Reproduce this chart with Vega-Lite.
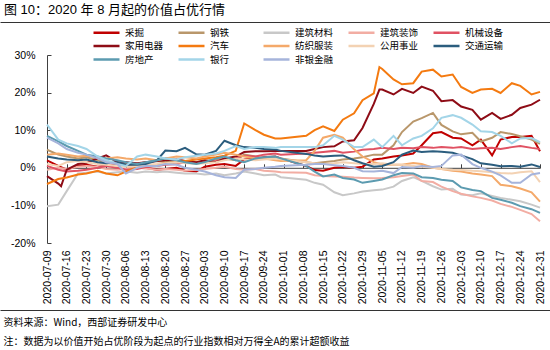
{
"$schema":"https://vega.github.io/schema/vega-lite/v6.json",
"width":493,"height":188,
"autosize":"none",
"padding":{"left":47,"top":55,"right":10,"bottom":107},
"background":"white",
"title":{"text":"图 10：2020 年 8 月起的价值占优行情","anchor":"start","frame":"group","dx":-43,"offset":5,"font":"Liberation Sans, Noto Sans CJK SC","fontSize":13,"fontWeight":"normal","color":"#000"},
"config":{"view":{"stroke":null},"axis":{"grid":false}},
"resolve":{"scale":{"x":"independent"},"axis":{"x":"independent"}},
"layer":[
{
"data":{"values":[
{"s":"采掘","d":"2020-07-09","v":2.0},{"s":"采掘","d":"2020-07-13","v":0.5},{"s":"采掘","d":"2020-07-16","v":-0.5},{"s":"采掘","d":"2020-07-20","v":0.5},{"s":"采掘","d":"2020-07-23","v":0.8},{"s":"采掘","d":"2020-07-27","v":0.3},{"s":"采掘","d":"2020-07-30","v":0.5},{"s":"采掘","d":"2020-08-03","v":0.8},{"s":"采掘","d":"2020-08-06","v":0.5},{"s":"采掘","d":"2020-08-10","v":0.3},{"s":"采掘","d":"2020-08-13","v":0.0},{"s":"采掘","d":"2020-08-17","v":-0.5},{"s":"采掘","d":"2020-08-20","v":-0.3},{"s":"采掘","d":"2020-08-24","v":0.0},{"s":"采掘","d":"2020-08-27","v":-0.8},{"s":"采掘","d":"2020-08-31","v":-1.0},{"s":"采掘","d":"2020-09-03","v":0.3},{"s":"采掘","d":"2020-09-07","v":0.8},{"s":"采掘","d":"2020-09-10","v":1.0},{"s":"采掘","d":"2020-09-14","v":0.5},{"s":"采掘","d":"2020-09-17","v":2.2},{"s":"采掘","d":"2020-09-21","v":2.5},{"s":"采掘","d":"2020-09-24","v":2.8},{"s":"采掘","d":"2020-09-28","v":3.0},{"s":"采掘","d":"2020-09-30","v":2.5},{"s":"采掘","d":"2020-10-09","v":0.5},{"s":"采掘","d":"2020-10-12","v":-0.6},{"s":"采掘","d":"2020-10-15","v":-0.8},{"s":"采掘","d":"2020-10-19","v":0.0},{"s":"采掘","d":"2020-10-22","v":0.2},{"s":"采掘","d":"2020-10-26","v":0.0},{"s":"采掘","d":"2020-10-29","v":0.3},{"s":"采掘","d":"2020-11-02","v":2.2},{"s":"采掘","d":"2020-11-05","v":2.5},{"s":"采掘","d":"2020-11-09","v":3.0},{"s":"采掘","d":"2020-11-12","v":3.3},{"s":"采掘","d":"2020-11-16","v":3.8},{"s":"采掘","d":"2020-11-19","v":6.0},{"s":"采掘","d":"2020-11-23","v":9.2},{"s":"采掘","d":"2020-11-26","v":9.5},{"s":"采掘","d":"2020-11-30","v":8.0},{"s":"采掘","d":"2020-12-03","v":7.8},{"s":"采掘","d":"2020-12-07","v":6.0},{"s":"采掘","d":"2020-12-10","v":7.5},{"s":"采掘","d":"2020-12-14","v":3.3},{"s":"采掘","d":"2020-12-17","v":7.5},{"s":"采掘","d":"2020-12-21","v":8.2},{"s":"采掘","d":"2020-12-24","v":8.2},{"s":"采掘","d":"2020-12-28","v":8.5},{"s":"采掘","d":"2020-12-31","v":4.4},
{"s":"钢铁","d":"2020-07-09","v":4.8},{"s":"钢铁","d":"2020-07-13","v":3.5},{"s":"钢铁","d":"2020-07-16","v":3.0},{"s":"钢铁","d":"2020-07-20","v":2.5},{"s":"钢铁","d":"2020-07-23","v":2.8},{"s":"钢铁","d":"2020-07-27","v":2.0},{"s":"钢铁","d":"2020-07-30","v":1.5},{"s":"钢铁","d":"2020-08-03","v":1.0},{"s":"钢铁","d":"2020-08-06","v":1.2},{"s":"钢铁","d":"2020-08-10","v":1.0},{"s":"钢铁","d":"2020-08-13","v":1.5},{"s":"钢铁","d":"2020-08-17","v":1.8},{"s":"钢铁","d":"2020-08-20","v":1.5},{"s":"钢铁","d":"2020-08-24","v":2.0},{"s":"钢铁","d":"2020-08-27","v":1.8},{"s":"钢铁","d":"2020-08-31","v":1.5},{"s":"钢铁","d":"2020-09-03","v":1.8},{"s":"钢铁","d":"2020-09-07","v":2.2},{"s":"钢铁","d":"2020-09-10","v":2.5},{"s":"钢铁","d":"2020-09-14","v":2.0},{"s":"钢铁","d":"2020-09-17","v":3.5},{"s":"钢铁","d":"2020-09-21","v":3.0},{"s":"钢铁","d":"2020-09-24","v":2.5},{"s":"钢铁","d":"2020-09-28","v":2.8},{"s":"钢铁","d":"2020-09-30","v":2.5},{"s":"钢铁","d":"2020-10-09","v":1.5},{"s":"钢铁","d":"2020-10-12","v":1.2},{"s":"钢铁","d":"2020-10-15","v":1.5},{"s":"钢铁","d":"2020-10-19","v":1.8},{"s":"钢铁","d":"2020-10-22","v":2.2},{"s":"钢铁","d":"2020-10-26","v":2.5},{"s":"钢铁","d":"2020-10-29","v":2.8},{"s":"钢铁","d":"2020-11-02","v":3.5},{"s":"钢铁","d":"2020-11-05","v":3.5},{"s":"钢铁","d":"2020-11-09","v":6.0},{"s":"钢铁","d":"2020-11-12","v":9.5},{"s":"钢铁","d":"2020-11-16","v":12.3},{"s":"钢铁","d":"2020-11-19","v":13.2},{"s":"钢铁","d":"2020-11-23","v":14.6},{"s":"钢铁","d":"2020-11-26","v":11.4},{"s":"钢铁","d":"2020-11-30","v":9.7},{"s":"钢铁","d":"2020-12-03","v":8.9},{"s":"钢铁","d":"2020-12-07","v":9.3},{"s":"钢铁","d":"2020-12-10","v":7.0},{"s":"钢铁","d":"2020-12-14","v":8.0},{"s":"钢铁","d":"2020-12-17","v":9.5},{"s":"钢铁","d":"2020-12-21","v":9.0},{"s":"钢铁","d":"2020-12-24","v":8.4},{"s":"钢铁","d":"2020-12-28","v":7.5},{"s":"钢铁","d":"2020-12-31","v":6.4},
{"s":"建筑材料","d":"2020-07-09","v":-10.2},{"s":"建筑材料","d":"2020-07-13","v":-9.8},{"s":"建筑材料","d":"2020-07-16","v":-6.2},{"s":"建筑材料","d":"2020-07-20","v":-1.5},{"s":"建筑材料","d":"2020-07-23","v":-1.3},{"s":"建筑材料","d":"2020-07-27","v":-1.0},{"s":"建筑材料","d":"2020-07-30","v":-1.5},{"s":"建筑材料","d":"2020-08-03","v":-1.2},{"s":"建筑材料","d":"2020-08-06","v":-1.0},{"s":"建筑材料","d":"2020-08-10","v":-1.3},{"s":"建筑材料","d":"2020-08-13","v":-1.0},{"s":"建筑材料","d":"2020-08-17","v":-1.2},{"s":"建筑材料","d":"2020-08-20","v":-1.0},{"s":"建筑材料","d":"2020-08-24","v":-1.3},{"s":"建筑材料","d":"2020-08-27","v":-1.5},{"s":"建筑材料","d":"2020-08-31","v":-1.5},{"s":"建筑材料","d":"2020-09-03","v":-1.8},{"s":"建筑材料","d":"2020-09-07","v":-1.5},{"s":"建筑材料","d":"2020-09-10","v":-2.0},{"s":"建筑材料","d":"2020-09-14","v":-1.5},{"s":"建筑材料","d":"2020-09-17","v":-1.0},{"s":"建筑材料","d":"2020-09-21","v":-1.5},{"s":"建筑材料","d":"2020-09-24","v":-2.0},{"s":"建筑材料","d":"2020-09-28","v":-1.8},{"s":"建筑材料","d":"2020-09-30","v":-2.5},{"s":"建筑材料","d":"2020-10-09","v":-3.2},{"s":"建筑材料","d":"2020-10-12","v":-4.0},{"s":"建筑材料","d":"2020-10-15","v":-4.5},{"s":"建筑材料","d":"2020-10-19","v":-6.5},{"s":"建筑材料","d":"2020-10-22","v":-7.3},{"s":"建筑材料","d":"2020-10-26","v":-6.8},{"s":"建筑材料","d":"2020-10-29","v":-6.3},{"s":"建筑材料","d":"2020-11-02","v":-6.0},{"s":"建筑材料","d":"2020-11-05","v":-5.8},{"s":"建筑材料","d":"2020-11-09","v":-5.0},{"s":"建筑材料","d":"2020-11-12","v":-3.5},{"s":"建筑材料","d":"2020-11-16","v":-2.5},{"s":"建筑材料","d":"2020-11-19","v":-3.5},{"s":"建筑材料","d":"2020-11-23","v":-4.9},{"s":"建筑材料","d":"2020-11-26","v":-5.8},{"s":"建筑材料","d":"2020-11-30","v":-5.6},{"s":"建筑材料","d":"2020-12-03","v":-7.1},{"s":"建筑材料","d":"2020-12-07","v":-7.3},{"s":"建筑材料","d":"2020-12-10","v":-6.8},{"s":"建筑材料","d":"2020-12-14","v":-7.5},{"s":"建筑材料","d":"2020-12-17","v":-8.0},{"s":"建筑材料","d":"2020-12-21","v":-8.5},{"s":"建筑材料","d":"2020-12-24","v":-8.9},{"s":"建筑材料","d":"2020-12-28","v":-9.8},{"s":"建筑材料","d":"2020-12-31","v":-10.6},
{"s":"建筑装饰","d":"2020-07-09","v":-0.5},{"s":"建筑装饰","d":"2020-07-13","v":0.0},{"s":"建筑装饰","d":"2020-07-16","v":-0.3},{"s":"建筑装饰","d":"2020-07-20","v":0.3},{"s":"建筑装饰","d":"2020-07-23","v":0.5},{"s":"建筑装饰","d":"2020-07-27","v":0.2},{"s":"建筑装饰","d":"2020-07-30","v":-0.3},{"s":"建筑装饰","d":"2020-08-03","v":-0.5},{"s":"建筑装饰","d":"2020-08-06","v":-0.3},{"s":"建筑装饰","d":"2020-08-10","v":0.0},{"s":"建筑装饰","d":"2020-08-13","v":-0.2},{"s":"建筑装饰","d":"2020-08-17","v":-0.5},{"s":"建筑装饰","d":"2020-08-20","v":-0.3},{"s":"建筑装饰","d":"2020-08-24","v":-0.5},{"s":"建筑装饰","d":"2020-08-27","v":-0.8},{"s":"建筑装饰","d":"2020-08-31","v":-0.5},{"s":"建筑装饰","d":"2020-09-03","v":-0.3},{"s":"建筑装饰","d":"2020-09-07","v":0.0},{"s":"建筑装饰","d":"2020-09-10","v":0.3},{"s":"建筑装饰","d":"2020-09-14","v":-0.3},{"s":"建筑装饰","d":"2020-09-17","v":-0.5},{"s":"建筑装饰","d":"2020-09-21","v":-0.3},{"s":"建筑装饰","d":"2020-09-24","v":-0.8},{"s":"建筑装饰","d":"2020-09-28","v":-1.0},{"s":"建筑装饰","d":"2020-09-30","v":-1.2},{"s":"建筑装饰","d":"2020-10-09","v":-1.3},{"s":"建筑装饰","d":"2020-10-12","v":-2.0},{"s":"建筑装饰","d":"2020-10-15","v":-2.2},{"s":"建筑装饰","d":"2020-10-19","v":-2.3},{"s":"建筑装饰","d":"2020-10-22","v":-2.4},{"s":"建筑装饰","d":"2020-10-26","v":-2.6},{"s":"建筑装饰","d":"2020-10-29","v":-2.7},{"s":"建筑装饰","d":"2020-11-02","v":-2.8},{"s":"建筑装饰","d":"2020-11-05","v":-2.7},{"s":"建筑装饰","d":"2020-11-09","v":-2.5},{"s":"建筑装饰","d":"2020-11-12","v":-2.2},{"s":"建筑装饰","d":"2020-11-16","v":-1.8},{"s":"建筑装饰","d":"2020-11-19","v":-3.5},{"s":"建筑装饰","d":"2020-11-23","v":-3.8},{"s":"建筑装饰","d":"2020-11-26","v":-5.0},{"s":"建筑装饰","d":"2020-11-30","v":-6.2},{"s":"建筑装饰","d":"2020-12-03","v":-6.9},{"s":"建筑装饰","d":"2020-12-07","v":-7.6},{"s":"建筑装饰","d":"2020-12-10","v":-8.0},{"s":"建筑装饰","d":"2020-12-14","v":-8.7},{"s":"建筑装饰","d":"2020-12-17","v":-9.6},{"s":"建筑装饰","d":"2020-12-21","v":-10.4},{"s":"建筑装饰","d":"2020-12-24","v":-11.2},{"s":"建筑装饰","d":"2020-12-28","v":-12.3},{"s":"建筑装饰","d":"2020-12-31","v":-14.2},
{"s":"机械设备","d":"2020-07-09","v":0.5},{"s":"机械设备","d":"2020-07-13","v":-0.5},{"s":"机械设备","d":"2020-07-16","v":-1.0},{"s":"机械设备","d":"2020-07-20","v":-0.8},{"s":"机械设备","d":"2020-07-23","v":-0.5},{"s":"机械设备","d":"2020-07-27","v":0.0},{"s":"机械设备","d":"2020-07-30","v":0.5},{"s":"机械设备","d":"2020-08-03","v":0.0},{"s":"机械设备","d":"2020-08-06","v":-0.5},{"s":"机械设备","d":"2020-08-10","v":-0.3},{"s":"机械设备","d":"2020-08-13","v":0.2},{"s":"机械设备","d":"2020-08-17","v":0.5},{"s":"机械设备","d":"2020-08-20","v":0.8},{"s":"机械设备","d":"2020-08-24","v":1.0},{"s":"机械设备","d":"2020-08-27","v":1.5},{"s":"机械设备","d":"2020-08-31","v":1.2},{"s":"机械设备","d":"2020-09-03","v":1.5},{"s":"机械设备","d":"2020-09-07","v":1.8},{"s":"机械设备","d":"2020-09-10","v":2.2},{"s":"机械设备","d":"2020-09-14","v":2.8},{"s":"机械设备","d":"2020-09-17","v":3.2},{"s":"机械设备","d":"2020-09-21","v":3.0},{"s":"机械设备","d":"2020-09-24","v":3.5},{"s":"机械设备","d":"2020-09-28","v":3.8},{"s":"机械设备","d":"2020-09-30","v":3.5},{"s":"机械设备","d":"2020-10-09","v":3.8},{"s":"机械设备","d":"2020-10-12","v":4.0},{"s":"机械设备","d":"2020-10-15","v":4.2},{"s":"机械设备","d":"2020-10-19","v":4.5},{"s":"机械设备","d":"2020-10-22","v":4.0},{"s":"机械设备","d":"2020-10-26","v":4.3},{"s":"机械设备","d":"2020-10-29","v":4.8},{"s":"机械设备","d":"2020-11-02","v":5.0},{"s":"机械设备","d":"2020-11-05","v":5.3},{"s":"机械设备","d":"2020-11-09","v":5.0},{"s":"机械设备","d":"2020-11-12","v":5.3},{"s":"机械设备","d":"2020-11-16","v":5.2},{"s":"机械设备","d":"2020-11-19","v":5.5},{"s":"机械设备","d":"2020-11-23","v":5.3},{"s":"机械设备","d":"2020-11-26","v":5.5},{"s":"机械设备","d":"2020-11-30","v":5.3},{"s":"机械设备","d":"2020-12-03","v":5.5},{"s":"机械设备","d":"2020-12-07","v":5.0},{"s":"机械设备","d":"2020-12-10","v":5.2},{"s":"机械设备","d":"2020-12-14","v":5.3},{"s":"机械设备","d":"2020-12-17","v":5.0},{"s":"机械设备","d":"2020-12-21","v":5.5},{"s":"机械设备","d":"2020-12-24","v":5.8},{"s":"机械设备","d":"2020-12-28","v":5.3},{"s":"机械设备","d":"2020-12-31","v":5.0},
{"s":"家用电器","d":"2020-07-09","v":-2.2},{"s":"家用电器","d":"2020-07-13","v":-4.2},{"s":"家用电器","d":"2020-07-14","v":-4.9},{"s":"家用电器","d":"2020-07-16","v":-0.5},{"s":"家用电器","d":"2020-07-20","v":1.0},{"s":"家用电器","d":"2020-07-23","v":1.3},{"s":"家用电器","d":"2020-07-27","v":2.5},{"s":"家用电器","d":"2020-07-30","v":3.3},{"s":"家用电器","d":"2020-08-03","v":1.5},{"s":"家用电器","d":"2020-08-06","v":1.5},{"s":"家用电器","d":"2020-08-10","v":1.2},{"s":"家用电器","d":"2020-08-13","v":1.5},{"s":"家用电器","d":"2020-08-17","v":1.8},{"s":"家用电器","d":"2020-08-20","v":2.0},{"s":"家用电器","d":"2020-08-24","v":2.2},{"s":"家用电器","d":"2020-08-27","v":1.8},{"s":"家用电器","d":"2020-08-31","v":1.5},{"s":"家用电器","d":"2020-09-03","v":2.0},{"s":"家用电器","d":"2020-09-07","v":1.5},{"s":"家用电器","d":"2020-09-10","v":2.5},{"s":"家用电器","d":"2020-09-14","v":3.0},{"s":"家用电器","d":"2020-09-17","v":4.2},{"s":"家用电器","d":"2020-09-21","v":4.4},{"s":"家用电器","d":"2020-09-24","v":4.4},{"s":"家用电器","d":"2020-09-28","v":4.5},{"s":"家用电器","d":"2020-09-30","v":4.5},{"s":"家用电器","d":"2020-10-09","v":4.5},{"s":"家用电器","d":"2020-10-12","v":5.0},{"s":"家用电器","d":"2020-10-15","v":5.5},{"s":"家用电器","d":"2020-10-19","v":5.7},{"s":"家用电器","d":"2020-10-22","v":7.0},{"s":"家用电器","d":"2020-10-26","v":7.3},{"s":"家用电器","d":"2020-10-29","v":10.6},{"s":"家用电器","d":"2020-11-02","v":17.0},{"s":"家用电器","d":"2020-11-04","v":20.8},{"s":"家用电器","d":"2020-11-05","v":20.8},{"s":"家用电器","d":"2020-11-09","v":19.5},{"s":"家用电器","d":"2020-11-12","v":21.0},{"s":"家用电器","d":"2020-11-16","v":19.9},{"s":"家用电器","d":"2020-11-19","v":21.6},{"s":"家用电器","d":"2020-11-23","v":20.5},{"s":"家用电器","d":"2020-11-26","v":17.7},{"s":"家用电器","d":"2020-11-30","v":18.0},{"s":"家用电器","d":"2020-12-03","v":16.3},{"s":"家用电器","d":"2020-12-07","v":15.4},{"s":"家用电器","d":"2020-12-10","v":12.8},{"s":"家用电器","d":"2020-12-14","v":14.6},{"s":"家用电器","d":"2020-12-17","v":13.0},{"s":"家用电器","d":"2020-12-21","v":14.1},{"s":"家用电器","d":"2020-12-24","v":15.9},{"s":"家用电器","d":"2020-12-28","v":16.8},{"s":"家用电器","d":"2020-12-31","v":18.1},
{"s":"汽车","d":"2020-07-09","v":-4.3},{"s":"汽车","d":"2020-07-13","v":-3.0},{"s":"汽车","d":"2020-07-16","v":-2.6},{"s":"汽车","d":"2020-07-20","v":-1.8},{"s":"汽车","d":"2020-07-23","v":-1.5},{"s":"汽车","d":"2020-07-27","v":-0.8},{"s":"汽车","d":"2020-07-30","v":-1.5},{"s":"汽车","d":"2020-08-03","v":-2.0},{"s":"汽车","d":"2020-08-06","v":-1.0},{"s":"汽车","d":"2020-08-10","v":0.2},{"s":"汽车","d":"2020-08-13","v":0.5},{"s":"汽车","d":"2020-08-17","v":0.8},{"s":"汽车","d":"2020-08-20","v":1.2},{"s":"汽车","d":"2020-08-24","v":1.5},{"s":"汽车","d":"2020-08-27","v":1.8},{"s":"汽车","d":"2020-08-31","v":2.2},{"s":"汽车","d":"2020-09-03","v":2.5},{"s":"汽车","d":"2020-09-07","v":2.8},{"s":"汽车","d":"2020-09-10","v":3.2},{"s":"汽车","d":"2020-09-14","v":4.5},{"s":"汽车","d":"2020-09-17","v":11.8},{"s":"汽车","d":"2020-09-21","v":10.0},{"s":"汽车","d":"2020-09-24","v":8.8},{"s":"汽车","d":"2020-09-28","v":7.8},{"s":"汽车","d":"2020-09-30","v":7.8},{"s":"汽车","d":"2020-10-09","v":8.5},{"s":"汽车","d":"2020-10-12","v":10.0},{"s":"汽车","d":"2020-10-15","v":11.0},{"s":"汽车","d":"2020-10-19","v":9.8},{"s":"汽车","d":"2020-10-22","v":12.8},{"s":"汽车","d":"2020-10-26","v":14.5},{"s":"汽车","d":"2020-10-29","v":18.0},{"s":"汽车","d":"2020-11-02","v":19.8},{"s":"汽车","d":"2020-11-04","v":26.8},{"s":"汽车","d":"2020-11-05","v":26.3},{"s":"汽车","d":"2020-11-09","v":23.5},{"s":"汽车","d":"2020-11-12","v":22.2},{"s":"汽车","d":"2020-11-16","v":22.5},{"s":"汽车","d":"2020-11-19","v":25.6},{"s":"汽车","d":"2020-11-23","v":26.1},{"s":"汽车","d":"2020-11-26","v":24.3},{"s":"汽车","d":"2020-11-30","v":24.8},{"s":"汽车","d":"2020-12-03","v":21.5},{"s":"汽车","d":"2020-12-07","v":19.9},{"s":"汽车","d":"2020-12-10","v":20.8},{"s":"汽车","d":"2020-12-14","v":21.0},{"s":"汽车","d":"2020-12-17","v":19.9},{"s":"汽车","d":"2020-12-21","v":22.5},{"s":"汽车","d":"2020-12-24","v":21.8},{"s":"汽车","d":"2020-12-28","v":19.5},{"s":"汽车","d":"2020-12-31","v":20.2},
{"s":"纺织服装","d":"2020-07-09","v":3.5},{"s":"纺织服装","d":"2020-07-13","v":3.8},{"s":"纺织服装","d":"2020-07-16","v":3.5},{"s":"纺织服装","d":"2020-07-20","v":3.0},{"s":"纺织服装","d":"2020-07-23","v":3.2},{"s":"纺织服装","d":"2020-07-27","v":2.8},{"s":"纺织服装","d":"2020-07-30","v":2.5},{"s":"纺织服装","d":"2020-08-03","v":2.8},{"s":"纺织服装","d":"2020-08-06","v":2.5},{"s":"纺织服装","d":"2020-08-10","v":2.2},{"s":"纺织服装","d":"2020-08-13","v":2.5},{"s":"纺织服装","d":"2020-08-17","v":2.0},{"s":"纺织服装","d":"2020-08-20","v":2.5},{"s":"纺织服装","d":"2020-08-24","v":3.0},{"s":"纺织服装","d":"2020-08-27","v":2.8},{"s":"纺织服装","d":"2020-08-31","v":2.5},{"s":"纺织服装","d":"2020-09-03","v":3.0},{"s":"纺织服装","d":"2020-09-07","v":3.5},{"s":"纺织服装","d":"2020-09-10","v":4.0},{"s":"纺织服装","d":"2020-09-14","v":3.5},{"s":"纺织服装","d":"2020-09-17","v":3.0},{"s":"纺织服装","d":"2020-09-21","v":2.5},{"s":"纺织服装","d":"2020-09-24","v":2.5},{"s":"纺织服装","d":"2020-09-28","v":2.0},{"s":"纺织服装","d":"2020-09-30","v":1.8},{"s":"纺织服装","d":"2020-10-09","v":2.0},{"s":"纺织服装","d":"2020-10-12","v":4.5},{"s":"纺织服装","d":"2020-10-15","v":8.0},{"s":"纺织服装","d":"2020-10-19","v":8.8},{"s":"纺织服装","d":"2020-10-22","v":8.0},{"s":"纺织服装","d":"2020-10-26","v":4.9},{"s":"纺织服装","d":"2020-10-29","v":3.0},{"s":"纺织服装","d":"2020-11-02","v":1.5},{"s":"纺织服装","d":"2020-11-05","v":0.9},{"s":"纺织服装","d":"2020-11-09","v":0.8},{"s":"纺织服装","d":"2020-11-12","v":0.8},{"s":"纺织服装","d":"2020-11-16","v":1.3},{"s":"纺织服装","d":"2020-11-19","v":1.0},{"s":"纺织服装","d":"2020-11-23","v":0.0},{"s":"纺织服装","d":"2020-11-26","v":-0.3},{"s":"纺织服装","d":"2020-11-30","v":-0.8},{"s":"纺织服装","d":"2020-12-03","v":-1.0},{"s":"纺织服装","d":"2020-12-07","v":-1.5},{"s":"纺织服装","d":"2020-12-10","v":-1.8},{"s":"纺织服装","d":"2020-12-14","v":-2.2},{"s":"纺织服装","d":"2020-12-17","v":-4.5},{"s":"纺织服装","d":"2020-12-21","v":-4.9},{"s":"纺织服装","d":"2020-12-24","v":-5.5},{"s":"纺织服装","d":"2020-12-28","v":-6.5},{"s":"纺织服装","d":"2020-12-31","v":-9.0},
{"s":"公用事业","d":"2020-07-09","v":1.0},{"s":"公用事业","d":"2020-07-13","v":0.5},{"s":"公用事业","d":"2020-07-16","v":1.5},{"s":"公用事业","d":"2020-07-20","v":1.8},{"s":"公用事业","d":"2020-07-23","v":1.5},{"s":"公用事业","d":"2020-07-27","v":1.0},{"s":"公用事业","d":"2020-07-30","v":0.8},{"s":"公用事业","d":"2020-08-03","v":0.5},{"s":"公用事业","d":"2020-08-06","v":0.3},{"s":"公用事业","d":"2020-08-10","v":0.5},{"s":"公用事业","d":"2020-08-13","v":0.8},{"s":"公用事业","d":"2020-08-17","v":1.0},{"s":"公用事业","d":"2020-08-20","v":1.2},{"s":"公用事业","d":"2020-08-24","v":1.5},{"s":"公用事业","d":"2020-08-27","v":1.3},{"s":"公用事业","d":"2020-08-31","v":1.0},{"s":"公用事业","d":"2020-09-03","v":1.2},{"s":"公用事业","d":"2020-09-07","v":1.5},{"s":"公用事业","d":"2020-09-10","v":2.0},{"s":"公用事业","d":"2020-09-14","v":2.5},{"s":"公用事业","d":"2020-09-17","v":2.2},{"s":"公用事业","d":"2020-09-21","v":2.0},{"s":"公用事业","d":"2020-09-24","v":2.2},{"s":"公用事业","d":"2020-09-28","v":2.5},{"s":"公用事业","d":"2020-09-30","v":2.3},{"s":"公用事业","d":"2020-10-09","v":1.5},{"s":"公用事业","d":"2020-10-12","v":1.2},{"s":"公用事业","d":"2020-10-15","v":1.0},{"s":"公用事业","d":"2020-10-19","v":1.2},{"s":"公用事业","d":"2020-10-22","v":1.5},{"s":"公用事业","d":"2020-10-26","v":1.2},{"s":"公用事业","d":"2020-10-29","v":1.0},{"s":"公用事业","d":"2020-11-02","v":1.0},{"s":"公用事业","d":"2020-11-05","v":1.2},{"s":"公用事业","d":"2020-11-09","v":0.8},{"s":"公用事业","d":"2020-11-12","v":0.8},{"s":"公用事业","d":"2020-11-16","v":0.5},{"s":"公用事业","d":"2020-11-19","v":0.3},{"s":"公用事业","d":"2020-11-23","v":0.0},{"s":"公用事业","d":"2020-11-26","v":-0.3},{"s":"公用事业","d":"2020-11-30","v":-0.5},{"s":"公用事业","d":"2020-12-03","v":-0.6},{"s":"公用事业","d":"2020-12-07","v":-0.8},{"s":"公用事业","d":"2020-12-10","v":-0.9},{"s":"公用事业","d":"2020-12-14","v":-1.2},{"s":"公用事业","d":"2020-12-17","v":-1.4},{"s":"公用事业","d":"2020-12-21","v":-1.5},{"s":"公用事业","d":"2020-12-24","v":-1.2},{"s":"公用事业","d":"2020-12-28","v":-0.9},{"s":"公用事业","d":"2020-12-31","v":-3.8},
{"s":"交通运输","d":"2020-07-09","v":3.0},{"s":"交通运输","d":"2020-07-13","v":2.5},{"s":"交通运输","d":"2020-07-16","v":2.2},{"s":"交通运输","d":"2020-07-20","v":2.0},{"s":"交通运输","d":"2020-07-23","v":2.2},{"s":"交通运输","d":"2020-07-27","v":1.5},{"s":"交通运输","d":"2020-07-30","v":1.2},{"s":"交通运输","d":"2020-08-03","v":1.5},{"s":"交通运输","d":"2020-08-06","v":0.8},{"s":"交通运输","d":"2020-08-10","v":0.8},{"s":"交通运输","d":"2020-08-13","v":1.0},{"s":"交通运输","d":"2020-08-17","v":2.0},{"s":"交通运输","d":"2020-08-20","v":4.6},{"s":"交通运输","d":"2020-08-24","v":4.4},{"s":"交通运输","d":"2020-08-27","v":5.3},{"s":"交通运输","d":"2020-08-31","v":3.6},{"s":"交通运输","d":"2020-09-03","v":3.5},{"s":"交通运输","d":"2020-09-07","v":4.5},{"s":"交通运输","d":"2020-09-10","v":7.2},{"s":"交通运输","d":"2020-09-14","v":6.0},{"s":"交通运输","d":"2020-09-17","v":5.5},{"s":"交通运输","d":"2020-09-21","v":5.3},{"s":"交通运输","d":"2020-09-24","v":5.0},{"s":"交通运输","d":"2020-09-28","v":4.9},{"s":"交通运输","d":"2020-09-30","v":4.5},{"s":"交通运输","d":"2020-10-09","v":3.7},{"s":"交通运输","d":"2020-10-12","v":3.3},{"s":"交通运输","d":"2020-10-15","v":3.0},{"s":"交通运输","d":"2020-10-19","v":3.2},{"s":"交通运输","d":"2020-10-22","v":3.3},{"s":"交通运输","d":"2020-10-26","v":2.0},{"s":"交通运输","d":"2020-10-29","v":1.2},{"s":"交通运输","d":"2020-11-02","v":0.3},{"s":"交通运输","d":"2020-11-05","v":0.5},{"s":"交通运输","d":"2020-11-09","v":1.5},{"s":"交通运输","d":"2020-11-12","v":3.5},{"s":"交通运输","d":"2020-11-16","v":4.6},{"s":"交通运输","d":"2020-11-19","v":4.2},{"s":"交通运输","d":"2020-11-23","v":4.4},{"s":"交通运输","d":"2020-11-26","v":4.3},{"s":"交通运输","d":"2020-11-30","v":4.0},{"s":"交通运输","d":"2020-12-03","v":3.3},{"s":"交通运输","d":"2020-12-07","v":2.3},{"s":"交通运输","d":"2020-12-10","v":1.2},{"s":"交通运输","d":"2020-12-14","v":0.8},{"s":"交通运输","d":"2020-12-17","v":0.4},{"s":"交通运输","d":"2020-12-21","v":0.5},{"s":"交通运输","d":"2020-12-24","v":0.3},{"s":"交通运输","d":"2020-12-28","v":0.9},{"s":"交通运输","d":"2020-12-31","v":0.2},
{"s":"房地产","d":"2020-07-09","v":8.5},{"s":"房地产","d":"2020-07-13","v":7.0},{"s":"房地产","d":"2020-07-16","v":5.8},{"s":"房地产","d":"2020-07-20","v":4.5},{"s":"房地产","d":"2020-07-23","v":3.5},{"s":"房地产","d":"2020-07-27","v":3.0},{"s":"房地产","d":"2020-07-30","v":2.5},{"s":"房地产","d":"2020-08-03","v":2.0},{"s":"房地产","d":"2020-08-06","v":1.5},{"s":"房地产","d":"2020-08-10","v":1.0},{"s":"房地产","d":"2020-08-13","v":1.5},{"s":"房地产","d":"2020-08-17","v":2.0},{"s":"房地产","d":"2020-08-20","v":2.5},{"s":"房地产","d":"2020-08-24","v":2.0},{"s":"房地产","d":"2020-08-27","v":1.5},{"s":"房地产","d":"2020-08-31","v":1.0},{"s":"房地产","d":"2020-09-03","v":1.5},{"s":"房地产","d":"2020-09-07","v":2.5},{"s":"房地产","d":"2020-09-10","v":3.0},{"s":"房地产","d":"2020-09-14","v":2.0},{"s":"房地产","d":"2020-09-17","v":1.5},{"s":"房地产","d":"2020-09-21","v":2.5},{"s":"房地产","d":"2020-09-24","v":2.8},{"s":"房地产","d":"2020-09-28","v":3.0},{"s":"房地产","d":"2020-09-30","v":2.5},{"s":"房地产","d":"2020-10-09","v":0.5},{"s":"房地产","d":"2020-10-12","v":-1.0},{"s":"房地产","d":"2020-10-15","v":-2.3},{"s":"房地产","d":"2020-10-19","v":-1.8},{"s":"房地产","d":"2020-10-22","v":-2.7},{"s":"房地产","d":"2020-10-26","v":-3.1},{"s":"房地产","d":"2020-10-29","v":-4.0},{"s":"房地产","d":"2020-11-02","v":-3.5},{"s":"房地产","d":"2020-11-05","v":-3.1},{"s":"房地产","d":"2020-11-09","v":-2.0},{"s":"房地产","d":"2020-11-12","v":-1.4},{"s":"房地产","d":"2020-11-16","v":-1.5},{"s":"房地产","d":"2020-11-19","v":-2.5},{"s":"房地产","d":"2020-11-23","v":-2.7},{"s":"房地产","d":"2020-11-26","v":-3.2},{"s":"房地产","d":"2020-11-30","v":-3.5},{"s":"房地产","d":"2020-12-03","v":-5.2},{"s":"房地产","d":"2020-12-07","v":-5.9},{"s":"房地产","d":"2020-12-10","v":-6.2},{"s":"房地产","d":"2020-12-14","v":-8.0},{"s":"房地产","d":"2020-12-17","v":-8.5},{"s":"房地产","d":"2020-12-21","v":-9.3},{"s":"房地产","d":"2020-12-24","v":-10.2},{"s":"房地产","d":"2020-12-28","v":-11.0},{"s":"房地产","d":"2020-12-31","v":-12.0},
{"s":"银行","d":"2020-07-09","v":11.5},{"s":"银行","d":"2020-07-13","v":7.5},{"s":"银行","d":"2020-07-16","v":6.5},{"s":"银行","d":"2020-07-20","v":5.8},{"s":"银行","d":"2020-07-23","v":5.0},{"s":"银行","d":"2020-07-27","v":3.0},{"s":"银行","d":"2020-07-30","v":2.0},{"s":"银行","d":"2020-08-03","v":1.0},{"s":"银行","d":"2020-08-06","v":0.5},{"s":"银行","d":"2020-08-10","v":3.0},{"s":"银行","d":"2020-08-13","v":3.5},{"s":"银行","d":"2020-08-17","v":3.0},{"s":"银行","d":"2020-08-20","v":2.5},{"s":"银行","d":"2020-08-24","v":2.2},{"s":"银行","d":"2020-08-27","v":2.8},{"s":"银行","d":"2020-08-31","v":3.2},{"s":"银行","d":"2020-09-03","v":3.5},{"s":"银行","d":"2020-09-07","v":3.8},{"s":"银行","d":"2020-09-10","v":4.5},{"s":"银行","d":"2020-09-14","v":5.8},{"s":"银行","d":"2020-09-17","v":5.0},{"s":"银行","d":"2020-09-21","v":5.5},{"s":"银行","d":"2020-09-24","v":5.5},{"s":"银行","d":"2020-09-28","v":5.3},{"s":"银行","d":"2020-09-30","v":5.5},{"s":"银行","d":"2020-10-09","v":5.5},{"s":"银行","d":"2020-10-12","v":5.5},{"s":"银行","d":"2020-10-15","v":6.0},{"s":"银行","d":"2020-10-19","v":8.5},{"s":"银行","d":"2020-10-22","v":7.5},{"s":"银行","d":"2020-10-26","v":5.5},{"s":"银行","d":"2020-10-29","v":5.5},{"s":"银行","d":"2020-11-02","v":7.5},{"s":"银行","d":"2020-11-05","v":5.5},{"s":"银行","d":"2020-11-09","v":8.5},{"s":"银行","d":"2020-11-12","v":6.0},{"s":"银行","d":"2020-11-16","v":7.8},{"s":"银行","d":"2020-11-19","v":8.5},{"s":"银行","d":"2020-11-23","v":10.5},{"s":"银行","d":"2020-11-26","v":13.3},{"s":"银行","d":"2020-11-30","v":14.0},{"s":"银行","d":"2020-12-03","v":13.3},{"s":"银行","d":"2020-12-07","v":11.5},{"s":"银行","d":"2020-12-10","v":9.7},{"s":"银行","d":"2020-12-14","v":9.5},{"s":"银行","d":"2020-12-17","v":8.5},{"s":"银行","d":"2020-12-21","v":6.5},{"s":"银行","d":"2020-12-24","v":7.8},{"s":"银行","d":"2020-12-28","v":7.9},{"s":"银行","d":"2020-12-31","v":6.8},
{"s":"非银金融","d":"2020-07-09","v":8.0},{"s":"非银金融","d":"2020-07-13","v":6.5},{"s":"非银金融","d":"2020-07-16","v":5.0},{"s":"非银金融","d":"2020-07-20","v":4.0},{"s":"非银金融","d":"2020-07-23","v":3.5},{"s":"非银金融","d":"2020-07-27","v":2.5},{"s":"非银金融","d":"2020-07-30","v":1.5},{"s":"非银金融","d":"2020-08-03","v":1.0},{"s":"非银金融","d":"2020-08-06","v":-1.5},{"s":"非银金融","d":"2020-08-10","v":0.0},{"s":"非银金融","d":"2020-08-13","v":0.5},{"s":"非银金融","d":"2020-08-17","v":0.5},{"s":"非银金融","d":"2020-08-20","v":1.0},{"s":"非银金融","d":"2020-08-24","v":0.8},{"s":"非银金融","d":"2020-08-27","v":0.0},{"s":"非银金融","d":"2020-08-31","v":-0.5},{"s":"非银金融","d":"2020-09-03","v":-1.0},{"s":"非银金融","d":"2020-09-07","v":-2.0},{"s":"非银金融","d":"2020-09-10","v":-2.5},{"s":"非银金融","d":"2020-09-14","v":-2.7},{"s":"非银金融","d":"2020-09-17","v":-0.5},{"s":"非银金融","d":"2020-09-21","v":-0.3},{"s":"非银金融","d":"2020-09-24","v":0.0},{"s":"非银金融","d":"2020-09-28","v":0.3},{"s":"非银金融","d":"2020-09-30","v":0.5},{"s":"非银金融","d":"2020-10-09","v":0.8},{"s":"非银金融","d":"2020-10-12","v":1.0},{"s":"非银金融","d":"2020-10-15","v":1.0},{"s":"非银金融","d":"2020-10-19","v":0.7},{"s":"非银金融","d":"2020-10-22","v":0.5},{"s":"非银金融","d":"2020-10-26","v":0.0},{"s":"非银金融","d":"2020-10-29","v":-0.9},{"s":"非银金融","d":"2020-11-02","v":-1.0},{"s":"非银金融","d":"2020-11-05","v":-0.8},{"s":"非银金融","d":"2020-11-09","v":-1.4},{"s":"非银金融","d":"2020-11-12","v":0.2},{"s":"非银金融","d":"2020-11-16","v":0.0},{"s":"非银金融","d":"2020-11-19","v":0.5},{"s":"非银金融","d":"2020-11-23","v":0.2},{"s":"非银金融","d":"2020-11-26","v":0.5},{"s":"非银金融","d":"2020-11-30","v":3.3},{"s":"非银金融","d":"2020-12-03","v":3.5},{"s":"非银金融","d":"2020-12-07","v":1.0},{"s":"非银金融","d":"2020-12-10","v":0.0},{"s":"非银金融","d":"2020-12-14","v":-1.0},{"s":"非银金融","d":"2020-12-17","v":-2.0},{"s":"非银金融","d":"2020-12-21","v":-4.0},{"s":"非银金融","d":"2020-12-24","v":-4.0},{"s":"非银金融","d":"2020-12-28","v":-1.8},{"s":"非银金融","d":"2020-12-31","v":-1.4}
]},
"mark":{"type":"line","strokeWidth":2},
"encoding":{
"x":{"field":"d","type":"temporal","scale":{"type":"utc","domain":[{"year":2020,"month":7,"date":9,"utc":true},{"year":2020,"month":12,"date":31,"utc":true}]},
"axis":{"orient":"bottom","values":[{"year":2020,"month":7,"date":9,"utc":true},{"year":2020,"month":7,"date":16,"utc":true},{"year":2020,"month":7,"date":23,"utc":true},{"year":2020,"month":7,"date":30,"utc":true},{"year":2020,"month":8,"date":6,"utc":true},{"year":2020,"month":8,"date":13,"utc":true},{"year":2020,"month":8,"date":20,"utc":true},{"year":2020,"month":8,"date":27,"utc":true},{"year":2020,"month":9,"date":3,"utc":true},{"year":2020,"month":9,"date":10,"utc":true},{"year":2020,"month":9,"date":17,"utc":true},{"year":2020,"month":9,"date":24,"utc":true},{"year":2020,"month":10,"date":1,"utc":true},{"year":2020,"month":10,"date":8,"utc":true},{"year":2020,"month":10,"date":15,"utc":true},{"year":2020,"month":10,"date":22,"utc":true},{"year":2020,"month":10,"date":29,"utc":true},{"year":2020,"month":11,"date":5,"utc":true},{"year":2020,"month":11,"date":12,"utc":true},{"year":2020,"month":11,"date":19,"utc":true},{"year":2020,"month":11,"date":26,"utc":true},{"year":2020,"month":12,"date":3,"utc":true},{"year":2020,"month":12,"date":10,"utc":true},{"year":2020,"month":12,"date":17,"utc":true},{"year":2020,"month":12,"date":24,"utc":true},{"year":2020,"month":12,"date":31,"utc":true}],
"labelExpr":"utcFormat(datum.value, '%Y-%m-%d')","labelAngle":-90,"labelFont":"Liberation Sans","labelFontSize":10.5,"labelColor":"#000","labelPadding":7,"ticks":false,"domain":false,"grid":false,"labelOverlap":false,"labelFlush":false,
"title":["资料来源：Wind，西部证券研发中心","注：数据为以价值开始占优阶段为起点的行业指数相对万得全A的累计超额收益"],"titleX":-44,"titleY":74,"titleAnchor":"start","titleAlign":"left","titleBaseline":"top","titleAngle":0,"titleFont":"Noto Sans CJK SC","titleFontSize":10,"titleFontWeight":"normal","titleColor":"#000","titleLineHeight":19}},
"y":{"field":"v","type":"quantitative","scale":{"domain":[-20,30],"nice":false,"zero":false},"axis":{"values":[-20,-10,0,10,20,30],"labelExpr":"datum.value + '%'","title":null,"labelFont":"Liberation Sans","labelFontSize":10.5,"labelColor":"#000","domainColor":"#404040","tickColor":"#404040","tickSize":-4,"labelPadding":16,"grid":false}},
"color":{"field":"s","type":"nominal","scale":{"domain":["采掘","钢铁","建筑材料","建筑装饰","机械设备","家用电器","汽车","纺织服装","公用事业","交通运输","房地产","银行","非银金融"],"range":["#C00000","#B9976B","#C8C8C8","#F2ADA3","#E05263","#8E0C16","#F47A10","#F4A96A","#F3D2B3","#2B5D7E","#5C9BB0","#A3D5E8","#A6B4DB"]},
"legend":{"orient":"none","legendX":45,"legendY":-29,"columns":5,"direction":"horizontal","title":null,"symbolType":"M-1,0H4.2","symbolSize":100,"symbolStrokeWidth":2.5,"labelFont":"Noto Sans CJK SC","labelFontSize":9.5,"labelColor":"#000","labelOffset":20,"columnPadding":9,"rowPadding":1.5,"gridAlign":"all","padding":0}}
}
},
{
"data":{"values":[{"d":"2020-07-09"}]},
"mark":{"type":"rule","opacity":0},
"encoding":{"x":{"field":"d","type":"temporal","scale":{"type":"utc","domain":[{"year":2020,"month":7,"date":9,"utc":true},{"year":2020,"month":12,"date":31,"utc":true}]},
"axis":{"orient":"top","offset":-112.8,"values":[{"year":2020,"month":7,"date":9,"utc":true},{"year":2020,"month":7,"date":16,"utc":true},{"year":2020,"month":7,"date":23,"utc":true},{"year":2020,"month":7,"date":30,"utc":true},{"year":2020,"month":8,"date":6,"utc":true},{"year":2020,"month":8,"date":13,"utc":true},{"year":2020,"month":8,"date":20,"utc":true},{"year":2020,"month":8,"date":27,"utc":true},{"year":2020,"month":9,"date":3,"utc":true},{"year":2020,"month":9,"date":10,"utc":true},{"year":2020,"month":9,"date":17,"utc":true},{"year":2020,"month":9,"date":24,"utc":true},{"year":2020,"month":10,"date":1,"utc":true},{"year":2020,"month":10,"date":8,"utc":true},{"year":2020,"month":10,"date":15,"utc":true},{"year":2020,"month":10,"date":22,"utc":true},{"year":2020,"month":10,"date":29,"utc":true},{"year":2020,"month":11,"date":5,"utc":true},{"year":2020,"month":11,"date":12,"utc":true},{"year":2020,"month":11,"date":19,"utc":true},{"year":2020,"month":11,"date":26,"utc":true},{"year":2020,"month":12,"date":3,"utc":true},{"year":2020,"month":12,"date":10,"utc":true},{"year":2020,"month":12,"date":17,"utc":true},{"year":2020,"month":12,"date":24,"utc":true},{"year":2020,"month":12,"date":31,"utc":true}],
"labels":false,"ticks":true,"tickSize":4,"tickColor":"#404040","domain":true,"domainColor":"#404040","title":null,"grid":false}}}
},
{
"data":{"values":[{"d":"2020-07-09"}]},
"mark":{"type":"rule","opacity":0},
"encoding":{"x":{"field":"d","type":"temporal","scale":{"type":"utc","domain":[{"year":2020,"month":7,"date":9,"utc":true},{"year":2020,"month":12,"date":31,"utc":true}],"range":[-47,503]},
"axis":{"orient":"top","offset":33,"labels":false,"ticks":false,"domain":true,"domainColor":"#333333","title":null,"grid":false}}}
},
{
"data":{"values":[{"d":"2020-07-09"}]},
"mark":{"type":"rule","opacity":0},
"encoding":{"x":{"field":"d","type":"temporal","scale":{"type":"utc","domain":[{"year":2020,"month":7,"date":9,"utc":true},{"year":2020,"month":12,"date":31,"utc":true}],"range":[-47,503]},
"axis":{"orient":"bottom","offset":67,"labels":false,"ticks":false,"domain":true,"domainColor":"#333333","title":null,"grid":false}}}
}
]
}
